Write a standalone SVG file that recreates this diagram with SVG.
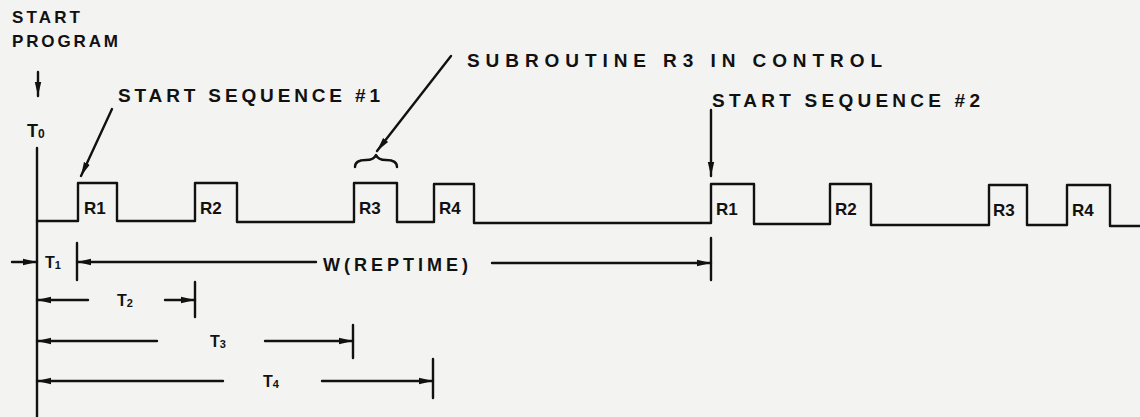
<svg xmlns="http://www.w3.org/2000/svg" width="1140" height="417" viewBox="0 0 1140 417">
<style>
.ln{stroke:#111;stroke-width:2.4;fill:none;stroke-linecap:round;stroke-linejoin:round}
.t{font-family:"Liberation Sans",Arial,sans-serif;font-weight:bold;fill:#111}
.s16{font-size:16px}
.s17{font-size:17px}
.s18{font-size:18px}
.s19{font-size:19px}
</style>
<defs>
<marker id="ah" markerUnits="userSpaceOnUse" markerWidth="15" markerHeight="8" refX="14" refY="4" orient="auto">
<path d="M0,0.8 L14,4 L0,7.2 z" fill="#111"/>
</marker>
</defs>
<rect width="1140" height="417" fill="#f3f3f1"/>

<g id="start-program">
<text class="t s17" x="12" y="23" textLength="68" lengthAdjust="spacing">START</text>
<text class="t s17" x="12" y="47" textLength="106" lengthAdjust="spacing">PROGRAM</text>
</g>
<g id="t0-axis">
<text class="t s18" x="27" y="137">T<tspan font-size="12" dy="1">0</tspan></text>
<line class="ln" x1="37" y1="148" x2="37" y2="417"/>
</g>
<g id="label-seq1">
<text class="t s19" x="118" y="102" textLength="262" lengthAdjust="spacing">START SEQUENCE #1</text>
</g>
<g id="label-r3">
<text class="t s19" x="467" y="67" textLength="415" lengthAdjust="spacing">SUBROUTINE  R3  IN  CONTROL</text>
<path class="ln" d="M355,167 Q355,160 366,160 Q374,160 376,155 Q378,160 386,160 Q397,160 397,167"/>
</g>
<g id="label-seq2">
<text class="t s19" x="712" y="107" textLength="268" lengthAdjust="spacing">START SEQUENCE #2</text>
</g>

<g id="waveform">
<polyline class="ln" points="37,221 78,221 78,183 117,183 117,221 195,221 195,183 237,183 237,222 354,222 354,183 397,183 397,222 434,222 434,184 474,184 474,223 711,223 711,184 754,184 754,224 830,224 830,184 871,184 871,225 989,225 989,185 1027,185 1027,225 1067,225 1067,185 1110,185 1110,226 1140,226"/>
</g>
<g id="pulse-labels">
<text class="t s17" x="84" y="214">R1</text>
<text class="t s17" x="200" y="214">R2</text>
<text class="t s17" x="359" y="214">R3</text>
<text class="t s17" x="439" y="214">R4</text>
<text class="t s17" x="716" y="215">R1</text>
<text class="t s17" x="835" y="215">R2</text>
<text class="t s17" x="993" y="216">R3</text>
<text class="t s17" x="1072" y="216">R4</text>
</g>

<g id="dimensions">
<line class="ln" x1="77" y1="243" x2="77" y2="280"/>
<line class="ln" x1="711" y1="238" x2="711" y2="280"/>
<line class="ln" x1="195" y1="282" x2="195" y2="317"/>
<line class="ln" x1="353" y1="325" x2="353" y2="358"/>
<line class="ln" x1="433" y1="359" x2="433" y2="398"/>
<text class="t s16" x="45" y="268">T<tspan font-size="11" dy="1">1</tspan></text>
<text class="t s18" x="323" y="271" textLength="145" lengthAdjust="spacing">W(REPTIME)</text>
<text class="t s16" x="117" y="306">T<tspan font-size="11" dy="1">2</tspan></text>
<text class="t s16" x="210" y="347">T<tspan font-size="11" dy="1">3</tspan></text>
<text class="t s16" x="263" y="387">T<tspan font-size="11" dy="1">4</tspan></text>
</g>

<g id="connectors">
<line class="ln" x1="38" y1="72" x2="38" y2="96" marker-end="url(#ah)"/>
<line class="ln" x1="112" y1="109" x2="81" y2="176" marker-end="url(#ah)"/>
<line class="ln" x1="451" y1="56" x2="377" y2="151" marker-end="url(#ah)"/>
<line class="ln" x1="711" y1="110" x2="711" y2="176" marker-end="url(#ah)"/>
<line class="ln" x1="12" y1="262" x2="37" y2="262" marker-end="url(#ah)"/>
<line class="ln" x1="316" y1="262" x2="77" y2="262" marker-end="url(#ah)"/>
<line class="ln" x1="492" y1="263" x2="711" y2="263" marker-end="url(#ah)"/>
<line class="ln" x1="88" y1="300" x2="37" y2="300" marker-end="url(#ah)"/>
<line class="ln" x1="165" y1="300" x2="195" y2="300" marker-end="url(#ah)"/>
<line class="ln" x1="157" y1="341" x2="37" y2="341" marker-end="url(#ah)"/>
<line class="ln" x1="265" y1="341" x2="353" y2="341" marker-end="url(#ah)"/>
<line class="ln" x1="223" y1="381" x2="37" y2="381" marker-end="url(#ah)"/>
<line class="ln" x1="322" y1="381" x2="433" y2="381" marker-end="url(#ah)"/>
</g>
</svg>
